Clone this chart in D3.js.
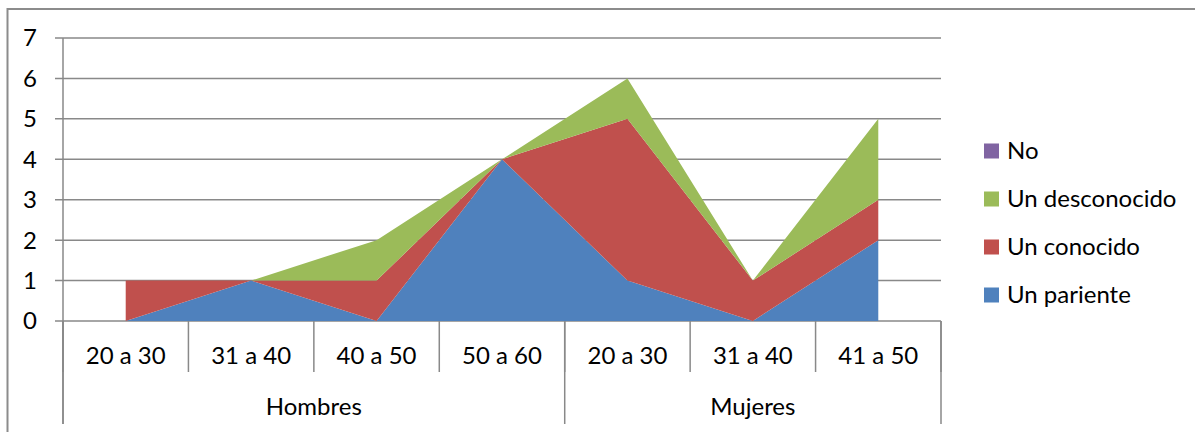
<!DOCTYPE html>
<html>
<head>
<meta charset="utf-8">
<script src="https://cdn.jsdelivr.net/npm/d3@7"></script>
<style>
  html, body { margin: 0; padding: 0; background: #fff; }
  svg { display: block; font-family: Lato, "Open Sans", sans-serif; }
</style>
</head>
<body>
<svg id="chart" width="1195" height="432"></svg>
<script>
// ---- data ----
const categories = ["20 a 30", "31 a 40", "40 a 50", "50 a 60", "20 a 30", "31 a 40", "41 a 50"];
const groups = [
  { name: "Hombres", start: 0, end: 4 },
  { name: "Mujeres", start: 4, end: 7 }
];
const unPariente    = [0, 1, 0, 4, 1, 0, 2];
const unConocido    = [1, 0, 1, 0, 4, 1, 1];
const unDesconocido = [0, 0, 1, 0, 1, 0, 2];
const no            = [0, 0, 0, 0, 0, 0, 0];
const seriesNames = ["Un pariente", "Un conocido", "Un desconocido", "No"];
const seriesColors = ["#4F81BD", "#C0504D", "#9BBB59", "#8064A2"];
const yTicks = [0, 1, 2, 3, 4, 5, 6, 7];

// ---- layout ----
const svg = d3.select("#chart");
const plot = { left: 63, right: 941, top: 38, bottom: 321 };
const gridColor = "#898989";
const fs = 24;

const rows = categories.map((c, i) => ({
  i: i,
  "Un pariente": unPariente[i],
  "Un conocido": unConocido[i],
  "Un desconocido": unDesconocido[i],
  "No": no[i]
}));

const x = d3.scaleBand().domain(d3.range(categories.length)).range([plot.left, plot.right]).padding(0);
const y = d3.scaleLinear().domain([0, 7]).range([plot.bottom, plot.top]);
const cx = i => x(i) + x.bandwidth() / 2;

// outer border
svg.append("rect")
  .attr("x", 7.5).attr("y", 9).attr("width", 1200).attr("height", 440)
  .attr("fill", "none").attr("stroke", "#8c8c8c").attr("stroke-width", 2);

// gridlines (with tick marks)
svg.append("g").selectAll("line").data(yTicks).join("line")
  .attr("x1", 55).attr("x2", plot.right)
  .attr("y1", d => y(d)).attr("y2", d => y(d))
  .attr("stroke", gridColor).attr("stroke-width", 1.5);

// stacked areas
const stack = d3.stack().keys(seriesNames);
const stacked = stack(rows);
const area = d3.area()
  .x(d => cx(d.data.i))
  .y0(d => y(d[0]))
  .y1(d => y(d[1]));
svg.append("g").selectAll("path").data(stacked).join("path")
  .attr("d", area)
  .attr("fill", (d, k) => seriesColors[k]);

// y axis line
svg.append("line")
  .attr("x1", plot.left).attr("x2", plot.left)
  .attr("y1", plot.top).attr("y2", 424)
  .attr("stroke", gridColor).attr("stroke-width", 1.5);

// y tick labels
svg.append("g").selectAll("text").data(yTicks).join("text")
  .attr("x", 37).attr("y", d => y(d)).attr("dy", "0.35em")
  .attr("text-anchor", "end")
  .attr("font-size", fs).attr("fill", "#000")
  .text(d => d);

// category separators
const bounds = d3.range(categories.length + 1).map(i => i < categories.length ? x(i) : plot.right);
svg.append("g").selectAll("line").data(bounds).join("line")
  .attr("x1", d => d).attr("x2", d => d)
  .attr("y1", plot.bottom).attr("y2", 372)
  .attr("stroke", gridColor).attr("stroke-width", 1.5);

// group separators
const gBounds = [groups[0].start].concat(groups.map(g => g.end));
svg.append("g").selectAll("line").data(gBounds).join("line")
  .attr("x1", d => d < categories.length ? x(d) : plot.right)
  .attr("x2", d => d < categories.length ? x(d) : plot.right)
  .attr("y1", plot.bottom).attr("y2", 424)
  .attr("stroke", gridColor).attr("stroke-width", 1.5);

// category labels
svg.append("g").selectAll("text").data(categories).join("text")
  .attr("x", (d, i) => cx(i)).attr("y", 364)
  .attr("text-anchor", "middle")
  .attr("font-size", fs).attr("fill", "#000")
  .text(d => d);

// group labels
svg.append("g").selectAll("text").data(groups).join("text")
  .attr("x", g => (x(g.start) + (g.end < categories.length ? x(g.end) : plot.right)) / 2)
  .attr("y", 415)
  .attr("text-anchor", "middle")
  .attr("font-size", fs).attr("fill", "#000")
  .text(g => g.name);

// legend (reverse order: No on top)
const legendItems = seriesNames.map((n, k) => ({ name: n, color: seriesColors[k] })).reverse();
const lg = svg.append("g").selectAll("g").data(legendItems).join("g")
  .attr("transform", (d, k) => `translate(984, ${151 + k * 48})`);
lg.append("rect")
  .attr("x", 0).attr("y", -7.5).attr("width", 15).attr("height", 15)
  .attr("fill", d => d.color);
lg.append("text")
  .attr("x", 23).attr("y", 8)
  .attr("font-size", fs).attr("fill", "#000")
  .text(d => d.name);
</script>
</body>
</html>
